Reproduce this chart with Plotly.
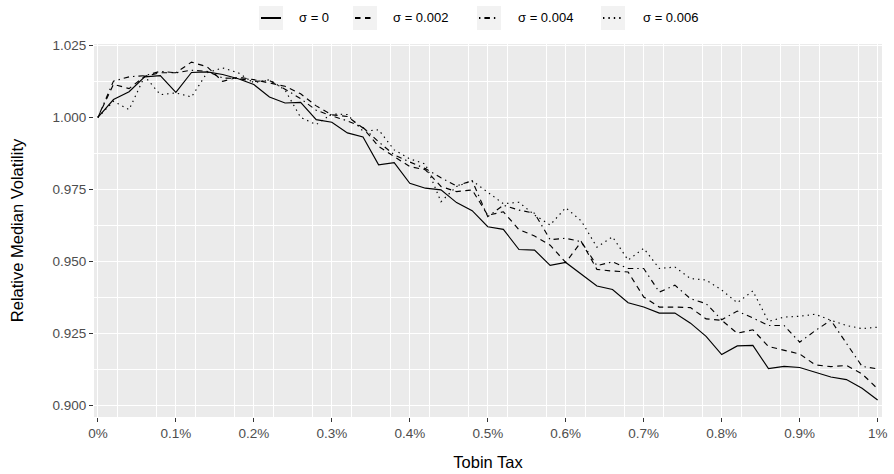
import plotly.graph_objects as go

tax = [0.0000, 0.0002, 0.0004, 0.0006, 0.0008, 0.0010, 0.0012, 0.0014, 0.0016, 0.0018,
       0.0020, 0.0022, 0.0024, 0.0026, 0.0028, 0.0030, 0.0032, 0.0034, 0.0036, 0.0038,
       0.0040, 0.0042, 0.0044, 0.0046, 0.0048, 0.0050, 0.0052, 0.0054, 0.0056, 0.0058,
       0.0060, 0.0062, 0.0064, 0.0066, 0.0068, 0.0070, 0.0072, 0.0074, 0.0076, 0.0078,
       0.0080, 0.0082, 0.0084, 0.0086, 0.0088, 0.0090, 0.0092, 0.0094, 0.0096, 0.0098,
       0.0100]

sigma_0 = [1.0000, 1.0062, 1.0089, 1.0141, 1.0145, 1.0087, 1.0156, 1.0158, 1.0149, 1.0134,
           1.0114, 1.0071, 1.0050, 1.0052, 0.9992, 0.9983, 0.9946, 0.9932, 0.9835, 0.9843,
           0.9771, 0.9754, 0.9748, 0.9704, 0.9676, 0.9620, 0.9611, 0.9541, 0.9539, 0.9486,
           0.9496, 0.9455, 0.9414, 0.9402, 0.9356, 0.9341, 0.9320, 0.9320, 0.9285, 0.9239,
           0.9176, 0.9206, 0.9208, 0.9127, 0.9135, 0.9131, 0.9114, 0.9098, 0.9089, 0.9059,
           0.9018]

sigma_002 = [1.0000, 1.0115, 1.0100, 1.0143, 1.0155, 1.0155, 1.0192, 1.0176, 1.0125, 1.0140,
             1.0131, 1.0120, 1.0108, 1.0082, 1.0040, 1.0009, 1.0003, 0.9963, 0.9899, 0.9864,
             0.9829, 0.9818, 0.9760, 0.9742, 0.9748, 0.9660, 0.9672, 0.9610, 0.9588, 0.9556,
             0.9496, 0.9568, 0.9472, 0.9466, 0.9463, 0.9376, 0.9341, 0.9341, 0.9339, 0.9300,
             0.9295, 0.9250, 0.9262, 0.9204, 0.9192, 0.9178, 0.9140, 0.9134, 0.9138, 0.9109,
             0.9057]

sigma_004 = [1.0000, 1.0126, 1.0141, 1.0145, 1.0160, 1.0155, 1.0164, 1.0160, 1.0137, 1.0135,
             1.0125, 1.0128, 1.0098, 1.0065, 1.0025, 1.0005, 0.9988, 0.9965, 0.9915, 0.9870,
             0.9845, 0.9822, 0.9790, 0.9762, 0.9780, 0.9655, 0.9695, 0.9678, 0.9667, 0.9575,
             0.9580, 0.9568, 0.9485, 0.9498, 0.9475, 0.9475, 0.9393, 0.9417, 0.9370, 0.9353,
             0.9297, 0.9327, 0.9303, 0.9277, 0.9277, 0.9219, 0.9259, 0.9295, 0.9215, 0.9135,
             0.9126]

sigma_006 = [1.0000, 1.0056, 1.0027, 1.0143, 1.0079, 1.0085, 1.0071, 1.0155, 1.0172, 1.0155,
             1.0120, 1.0131, 1.0095, 1.0000, 0.9975, 1.0012, 1.0010, 0.9952, 0.9957, 0.9887,
             0.9856, 0.9838, 0.9707, 0.9760, 0.9780, 0.9740, 0.9700, 0.9705, 0.9661, 0.9626,
             0.9686, 0.9640, 0.9549, 0.9585, 0.9504, 0.9545, 0.9475, 0.9480, 0.9440, 0.9435,
             0.9400, 0.9356, 0.9397, 0.9291, 0.9306, 0.9309, 0.9316, 0.9295, 0.9277, 0.9266,
             0.9271]

series_names = ["σ = 0", "σ = 0.002", "σ = 0.004", "σ = 0.006"]
series_values = [sigma_0, sigma_002, sigma_004, sigma_006]
series_dash = ["solid", "5.5px,4.5px", "1.4px,4px,5.5px,4px", "1.4px,4px"]

x_tick_vals = [0.000, 0.001, 0.002, 0.003, 0.004, 0.005, 0.006, 0.007, 0.008, 0.009, 0.010]
x_tick_text = ["0%", "0.1%", "0.2%", "0.3%", "0.4%", "0.5%", "0.6%", "0.7%", "0.8%", "0.9%", "1%"]
y_tick_vals = [0.900, 0.925, 0.950, 0.975, 1.000, 1.025]

FONT = "Liberation Sans, Arial, sans-serif"
W, H = 894, 474
ML, MR, MT, MB = 94, 12, 44, 57
PW, PH = W - ML - MR, H - MT - MB


def px_x(p):
    return (p - ML) / PW


def px_y(p):
    return (H - MB - p) / PH


fig = go.Figure()
for name, vals, dash in zip(series_names, series_values, series_dash):
    fig.add_trace(go.Scatter(x=tax, y=vals, mode="lines", name=name, showlegend=False,
                             line=dict(color="#000000", width=1.15, dash=dash)))

# Legend drawn as keys (gray boxes with line samples) and text labels, ggplot style
legend_key_left = [259, 353, 477, 601]
legend_text_left = [297, 391, 516, 641]
key_w, key_top, key_bot, legend_mid = 24, 6, 30, 18
shapes = []
annotations = []
for name, dash, kl, tl in zip(series_names, series_dash, legend_key_left, legend_text_left):
    shapes.append(dict(type="rect", xref="paper", yref="paper",
                       x0=px_x(kl), x1=px_x(kl + key_w), y0=px_y(key_bot), y1=px_y(key_top),
                       fillcolor="#F2F2F2", line=dict(width=0), layer="below"))
    shapes.append(dict(type="line", xref="paper", yref="paper",
                       x0=px_x(kl + 2), x1=px_x(kl + key_w - 2), y0=px_y(legend_mid), y1=px_y(legend_mid),
                       line=dict(color="#000000", width=2, dash=dash)))
    annotations.append(dict(text=name, xref="paper", yref="paper", x=px_x(tl), y=px_y(legend_mid),
                            xanchor="left", yanchor="middle", showarrow=False,
                            font=dict(size=13, color="#000000", family=FONT)))

fig.update_layout(
    width=W, height=H,
    margin=dict(l=ML, r=MR, t=MT, b=MB, autoexpand=False),
    paper_bgcolor="white",
    plot_bgcolor="#EBEBEB",
    font=dict(family=FONT, size=13, color="#000000"),
    showlegend=False,
    shapes=shapes,
    annotations=annotations,
)

fig.update_xaxes(
    automargin=False,
    range=[-0.00005, 0.010056],
    tickvals=x_tick_vals, ticktext=x_tick_text,
    ticks="outside", ticklen=4, tickcolor="#333333", tickwidth=1,
    tickfont=dict(size=13.5, color="#4D4D4D"),
    showgrid=True, gridcolor="white", gridwidth=1.1,
    minor=dict(dtick=0.0005, tick0=0.00025, showgrid=True, gridcolor="white", gridwidth=0.55),
    zeroline=False, showline=False,
    title=dict(text="Tobin Tax", font=dict(size=16.5, color="#000000"), standoff=16),
)
fig.update_yaxes(
    automargin=False,
    range=[0.8959, 1.0255],
    tickvals=y_tick_vals, tickformat=".3f",
    ticks="outside", ticklen=4, tickcolor="#333333", tickwidth=1,
    tickfont=dict(size=13.5, color="#4D4D4D"),
    showgrid=True, gridcolor="white", gridwidth=1.1,
    minor=dict(dtick=0.0125, tick0=0.9125, showgrid=True, gridcolor="white", gridwidth=0.55),
    zeroline=False, showline=False,
    title=dict(text="Relative Median Volatility", font=dict(size=16.5, color="#000000"), standoff=24),
)

fig.write_html("out.html")
